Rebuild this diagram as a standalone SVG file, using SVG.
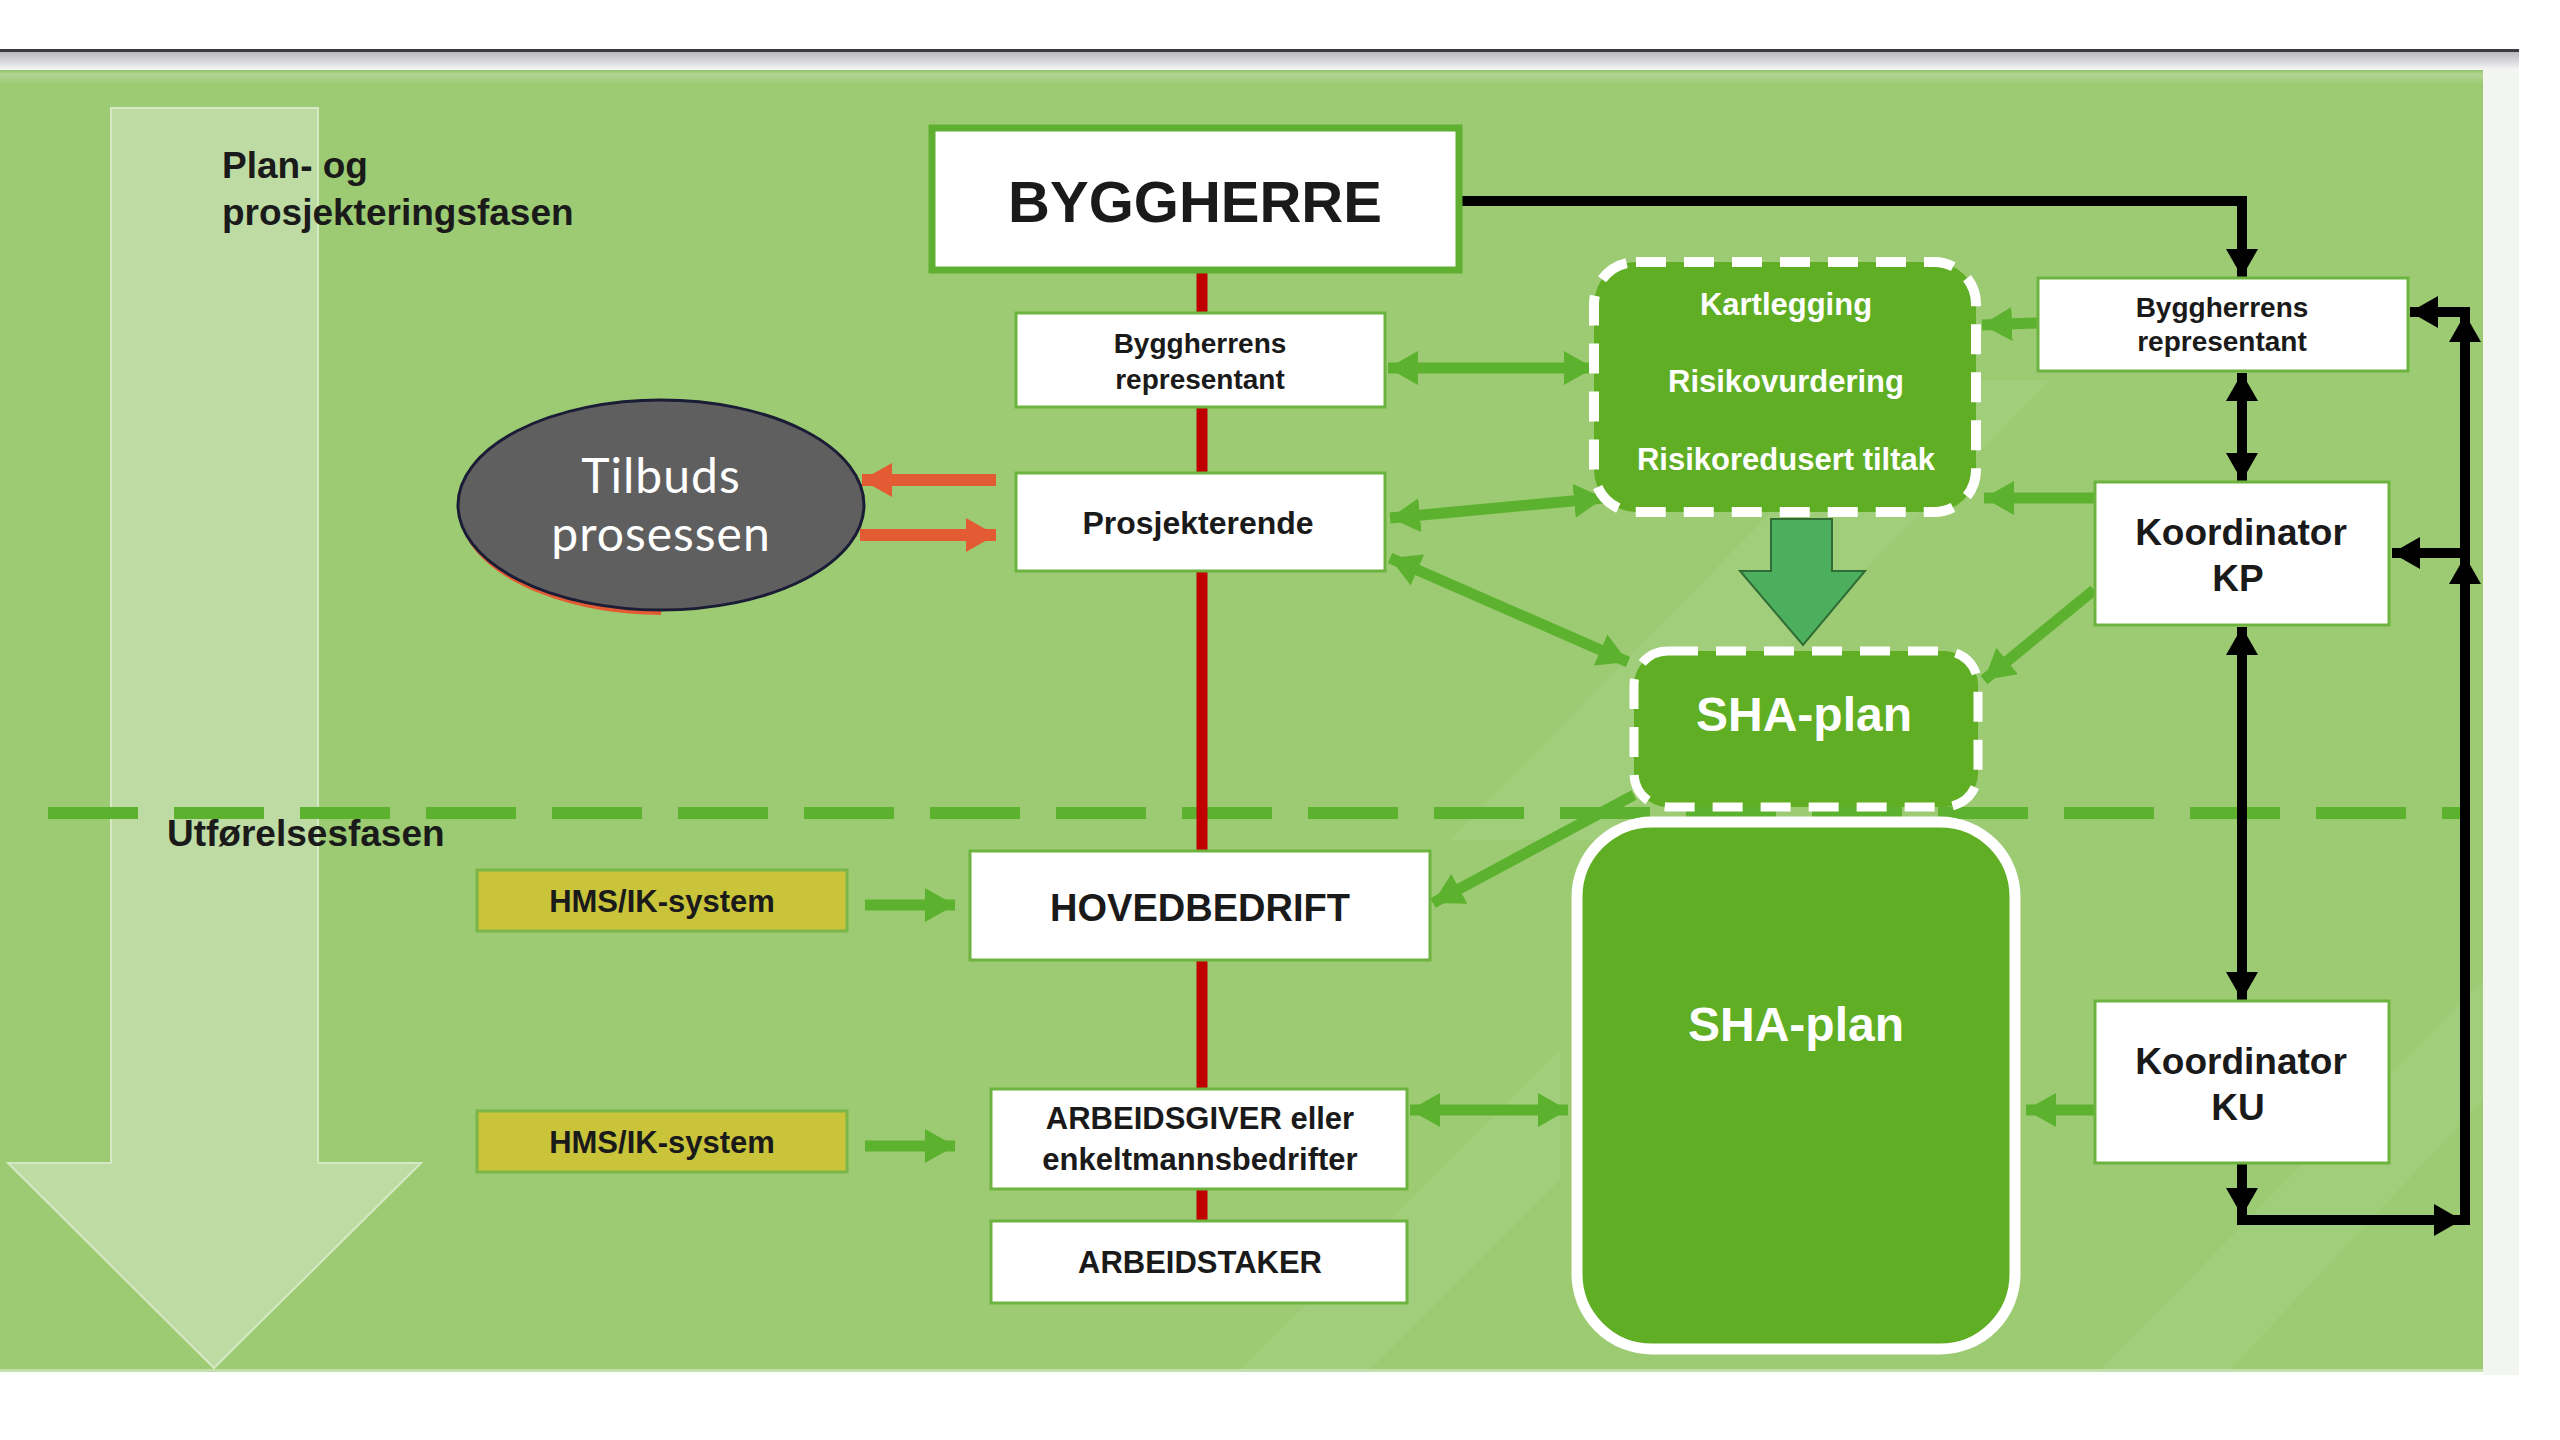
<svg xmlns="http://www.w3.org/2000/svg" width="2560" height="1440" viewBox="0 0 2560 1440">
<defs>
<style>
.box{fill:#ffffff;stroke:#6db33f;stroke-width:3}
.t{font-family:"Liberation Sans",Arial,sans-serif;font-weight:bold;fill:#1a1a1a;text-anchor:middle}
.tw{font-family:"Liberation Sans",Arial,sans-serif;font-weight:bold;fill:#ffffff;text-anchor:middle}
.g{fill:none;stroke:#5cb22e;stroke-width:11}
.k{fill:none;stroke:#000000;stroke-width:10}
.o{fill:none;stroke:#e35b33;stroke-width:12}
.hms{fill:#c9c43a;stroke:#7ab648;stroke-width:3}
</style>
<linearGradient id="topfade" x1="0" y1="0" x2="0" y2="1">
<stop offset="0" stop-color="#b9b9c0"/>
<stop offset="1" stop-color="#f6f6f6"/>
</linearGradient>
<linearGradient id="greentop" x1="0" y1="0" x2="0" y2="1">
<stop offset="0" stop-color="#8fc266"/>
<stop offset="0.3" stop-color="#b3d593"/>
<stop offset="1" stop-color="#9ccb73"/>
</linearGradient>
<marker id="gh" markerUnits="userSpaceOnUse" markerWidth="30" markerHeight="34" refX="30" refY="17" orient="auto-start-reverse">
<path d="M0,0 L30,17 L0,34 z" fill="#5cb22e"/>
</marker>
<marker id="kh" markerUnits="userSpaceOnUse" markerWidth="28" markerHeight="32" refX="28" refY="16" orient="auto-start-reverse">
<path d="M0,0 L28,16 L0,32 z" fill="#000000"/>
</marker>
<marker id="oh" markerUnits="userSpaceOnUse" markerWidth="30" markerHeight="34" refX="30" refY="17" orient="auto-start-reverse">
<path d="M0,0 L30,17 L0,34 z" fill="#e35b33"/>
</marker>
</defs>

<!-- page background -->
<rect x="0" y="0" width="2560" height="1440" fill="#ffffff"/>
<rect x="0" y="49" width="2519" height="3" fill="#3c3c40"/>
<rect x="0" y="52" width="2519" height="18" fill="url(#topfade)"/>
<rect x="2483" y="70" width="36" height="1305" fill="#f3f5f1"/>
<rect x="0" y="70" width="2483" height="1302" fill="#9ccb73"/>
<rect x="0" y="70" width="2483" height="14" fill="url(#greentop)"/>
<rect x="0" y="1369" width="2483" height="3" fill="#c3e0ac"/>

<!-- faint watermark bands -->
<g fill="#ffffff" opacity="0.06">
<polygon points="1450,840 1900,380 2050,380 1600,840"/>
<polygon points="2100,1370 2483,980 2483,1100 2230,1370"/>
<polygon points="1240,1370 1560,1050 1560,1180 1370,1370"/>
</g>

<!-- phase arrow -->
<polygon points="111,108 318,108 318,1163 421,1163 214,1368 8,1163 111,1163" fill="#bedba4" stroke="#d5eac4" stroke-width="2"/>

<!-- phase divider -->
<line x1="48" y1="813" x2="2465" y2="813" stroke="#5cb22e" stroke-width="12" stroke-dasharray="90 36"/>

<!-- phase labels -->
<g id="label-plan">
<text class="t" x="222" y="178" font-size="37" style="text-anchor:start">Plan- og</text>
<text class="t" x="222" y="225" font-size="37" style="text-anchor:start">prosjekteringsfasen</text>
</g>
<g id="label-utforelse">
<text class="t" x="167" y="846" font-size="37" style="text-anchor:start">Utførelsesfasen</text>
</g>

<!-- red hierarchy line -->
<line x1="1202" y1="273" x2="1202" y2="1222" stroke="#c00000" stroke-width="11"/>

<!-- connectors -->
<g id="connectors">
<!-- green -->
<path class="g" d="M1388,368 L1594,368" marker-start="url(#gh)" marker-end="url(#gh)"/>
<path class="g" d="M1390,518 L1604,498" marker-start="url(#gh)" marker-end="url(#gh)"/>
<path class="g" d="M1390,558 L1628,662" marker-start="url(#gh)" marker-end="url(#gh)"/>
<path class="g" d="M2037,323 L1982,325" marker-end="url(#gh)"/>
<path class="g" d="M2094,498 L1984,498" marker-end="url(#gh)"/>
<path class="g" d="M2094,590 L1984,680" marker-end="url(#gh)"/>
<path class="g" d="M1634,795 L1433,903" marker-end="url(#gh)"/>
<path class="g" d="M1410,1110 L1568,1110" marker-start="url(#gh)" marker-end="url(#gh)"/>
<path class="g" d="M2094,1110 L2026,1110" marker-end="url(#gh)"/>
<path class="g" d="M865,905 L955,905" marker-end="url(#gh)"/>
<path class="g" d="M865,1146 L955,1146" marker-end="url(#gh)"/>
<!-- orange -->
<path class="o" d="M996,480 L862,480" marker-end="url(#oh)"/>
<path class="o" d="M860,535 L996,535" marker-end="url(#oh)"/>
<!-- black -->
<path class="k" d="M1461,201 L2242,201 L2242,277" marker-end="url(#kh)"/>
<path class="k" d="M2242,373 L2242,481" marker-start="url(#kh)" marker-end="url(#kh)"/>
<path class="k" d="M2242,627 L2242,1000" marker-start="url(#kh)" marker-end="url(#kh)"/>
<path class="k" d="M2242,1164 L2242,1216" marker-end="url(#kh)"/>
<path class="k" d="M2237,1220 L2462,1220" marker-end="url(#kh)"/>
<path class="k" d="M2465,1225 L2465,556"  marker-end="url(#kh)"/>
<path class="k" d="M2465,560 L2465,314" marker-end="url(#kh)"/>
<path class="k" d="M2470,312 L2410,312" marker-end="url(#kh)"/>
<path class="k" d="M2465,553 L2392,553" marker-end="url(#kh)"/>
</g>

<!-- nodes -->
<g id="byggherre">
<rect x="932" y="128" width="527" height="142" fill="#ffffff" stroke="#5fb030" stroke-width="7"/>
<text class="t" x="1195" y="222" font-size="58">BYGGHERRE</text>
</g>

<g id="byggherrens-rep-left">
<rect class="box" x="1016" y="313" width="369" height="94"/>
<text class="t" x="1200" y="353" font-size="28">Byggherrens</text>
<text class="t" x="1200" y="389" font-size="28">representant</text>
</g>

<g id="prosjekterende">
<rect class="box" x="1016" y="473" width="369" height="98"/>
<text class="t" x="1198" y="534" font-size="32">Prosjekterende</text>
</g>

<g id="tilbudsprosessen">
<path d="M470,540 A204,106 0 0 0 661,613" fill="none" stroke="#e35b33" stroke-width="4"/>
<ellipse cx="661" cy="505" rx="203" ry="105" fill="#5f5f5f" stroke="#1b1c36" stroke-width="3"/>
<text x="661" y="493" font-family="Lato,'Open Sans',sans-serif" font-size="48" fill="#ffffff" text-anchor="middle" letter-spacing="1">Tilbuds</text>
<text x="661" y="551" font-family="Lato,'Open Sans',sans-serif" font-size="48" fill="#ffffff" text-anchor="middle" letter-spacing="1">prosessen</text>
</g>

<g id="kartlegging">
<rect x="1594" y="262" width="382" height="250" rx="42" ry="42" fill="#5fae23" stroke="#ffffff" stroke-width="10" stroke-dasharray="30 18"/>
<text class="tw" x="1786" y="315" font-size="31">Kartlegging</text>
<text class="tw" x="1786" y="392" font-size="31">Risikovurdering</text>
<text class="tw" x="1786" y="470" font-size="31">Risikoredusert tiltak</text>
</g>

<g id="down-arrow">
<polygon points="1771,519 1832,519 1832,571 1865,571 1803,645 1740,571 1771,571" fill="#4caf5e" stroke="#2f6d35" stroke-width="2"/>
</g>

<g id="sha-plan-top">
<rect x="1634" y="651" width="344" height="156" rx="34" ry="34" fill="#5fae23" stroke="#ffffff" stroke-width="9" stroke-dasharray="30 18"/>
<text class="tw" x="1804" y="731" font-size="48">SHA-plan</text>
</g>

<g id="sha-plan">
<rect x="1577" y="822" width="438" height="527" rx="75" ry="75" fill="#5fae23" stroke="#ffffff" stroke-width="11"/>
<text class="tw" x="1796" y="1041" font-size="48">SHA-plan</text>
</g>

<g id="hms-1">
<rect class="hms" x="477" y="870" width="370" height="61"/>
<text class="t" x="662" y="912" font-size="31">HMS/IK-system</text>
</g>

<g id="hms-2">
<rect class="hms" x="477" y="1111" width="370" height="61"/>
<text class="t" x="662" y="1153" font-size="31">HMS/IK-system</text>
</g>

<g id="hovedbedrift">
<rect class="box" x="970" y="851" width="460" height="109"/>
<text class="t" x="1200" y="921" font-size="38">HOVEDBEDRIFT</text>
</g>

<g id="arbeidsgiver">
<rect class="box" x="991" y="1089" width="416" height="100"/>
<text class="t" x="1200" y="1129" font-size="31">ARBEIDSGIVER eller</text>
<text class="t" x="1200" y="1170" font-size="31">enkeltmannsbedrifter</text>
</g>

<g id="arbeidstaker">
<rect class="box" x="991" y="1221" width="416" height="82"/>
<text class="t" x="1200" y="1273" font-size="31">ARBEIDSTAKER</text>
</g>

<g id="byggherrens-rep-right">
<rect class="box" x="2038" y="278" width="370" height="93"/>
<text class="t" x="2222" y="317" font-size="28">Byggherrens</text>
<text class="t" x="2222" y="351" font-size="28">representant</text>
</g>

<g id="koordinator-kp">
<rect class="box" x="2095" y="482" width="294" height="143"/>
<text class="t" x="2241" y="545" font-size="37">Koordinator</text>
<text class="t" x="2238" y="591" font-size="37">KP</text>
</g>

<g id="koordinator-ku">
<rect class="box" x="2095" y="1001" width="294" height="162"/>
<text class="t" x="2241" y="1074" font-size="37">Koordinator</text>
<text class="t" x="2238" y="1120" font-size="37">KU</text>
</g>
</svg>
